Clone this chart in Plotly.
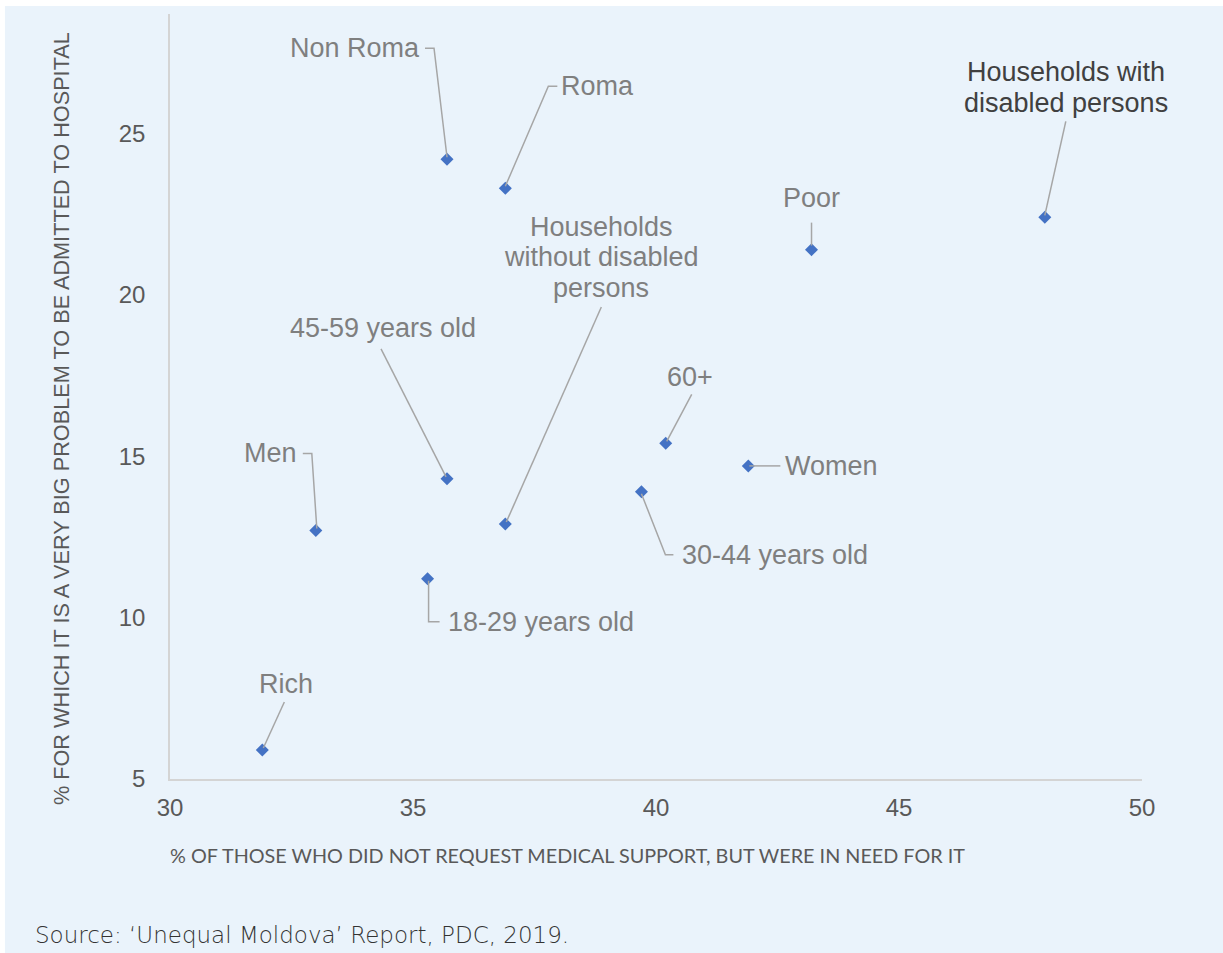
import plotly.graph_objects as go

# Groups and their values
groups = [
    "Non Roma", "Roma", "Households with<br>disabled persons", "Poor",
    "Households<br>without disabled<br>persons", "45-59 years old", "60+",
    "Women", "30-44 years old", "Men", "18-29 years old", "Rich",
]
no_request_pct = [35.7, 36.9, 48.0, 43.2, 36.9, 35.7, 40.2, 41.9, 39.7, 33.0, 35.3, 31.9]
hospital_problem_pct = [24.2, 23.3, 22.4, 21.4, 12.9, 14.3, 15.4, 14.7, 13.9, 12.7, 11.2, 5.9]

x_ticks = [30, 35, 40, 45, 50]
y_ticks = [5, 10, 15, 20, 25]

# Label placement: text offset (px, right/up) and leader-line path (px offsets from the point, up positive)
label_offsets = [
    (-92, 111), (92, 102), (21, 130), (0, 52), (96, 267), (-64, 151),
    (24, 66), (83, 0), (134, -63), (-45, 77), (113, -43), (24, 66),
]
leader_paths = [
    [(-22, 111), (-13, 111), (0, 2)],
    [(52, 102), (43, 102), (0, 2)],
    [(21, 96), (0, 2)],
    [(0, 27), (0, 4)],
    [(96, 217), (1, 2)],
    [(-66, 130), (-1, 2)],
    [(26, 49), (1, 2)],
    [(1, 0), (32, 0)],
    [(0, -2), (24, -63), (32, -63)],
    [(-13, 77), (-4, 77), (1, 2)],
    [(1, -2), (1, -43), (12, -43)],
    [(22, 48), (1, 2)],
]
label_colors = ["#7F7F7F"] * len(groups)
label_colors[2] = "#404040"

FONT = "Arial, Liberation Sans, sans-serif"
LABEL_SIZE = 27
LINE_STEP = 30.5

fig = go.Figure()
fig.add_trace(go.Scatter(
    x=no_request_pct, y=hospital_problem_pct, mode="markers",
    marker=dict(symbol="diamond", size=10, color="#4472C4"),
    hoverinfo="skip", showlegend=False,
))

shapes = [dict(
    type="rect", xref="paper", yref="paper", layer="below",
    x0=-0.1698, x1=1.1, y0=-0.3, y1=1.0105,
    fillcolor="#EAF3FB", line=dict(width=0),
)]
annotations = []
for name, xv, yv, (dx, dy), path, col in zip(
        groups, no_request_pct, hospital_problem_pct, label_offsets, leader_paths, label_colors):
    d = "M " + " L ".join(f"{px},{py}" for px, py in path)
    shapes.append(dict(
        type="path", xref="x", yref="y", xsizemode="pixel", ysizemode="pixel",
        xanchor=xv, yanchor=yv, path=d, line=dict(color="#A6A6A6", width=1.5),
    ))
    # multi-line labels are set line by line for tighter spacing
    lines = name.split("<br>")
    n = len(lines)
    for i, line in enumerate(lines):
        annotations.append(dict(
            x=xv, y=yv, xref="x", yref="y", text=line, showarrow=False,
            xanchor="center", yanchor="middle", xshift=dx,
            yshift=dy + (n - 1) / 2 * LINE_STEP - i * LINE_STEP,
            font=dict(family=FONT, size=LABEL_SIZE, color=col),
        ))

annotations.append(dict(
    x=-0.002, y=-0.0993, xref="paper", yref="paper", showarrow=False,
    xanchor="left", yanchor="middle",
    text="% OF THOSE WHO DID NOT REQUEST MEDICAL SUPPORT, BUT WERE IN NEED FOR IT",
    font=dict(family="Lato, Carlito, sans-serif", size=19.8, color="#595959"),
))
annotations.append(dict(
    x=-0.111, y=0.4706, xref="paper", yref="paper", showarrow=False,
    xanchor="center", yanchor="middle", textangle=-90,
    text="% FOR WHICH IT IS A VERY BIG PROBLEM TO BE ADMITTED TO HOSPITAL",
    font=dict(family=FONT, size=21.7, color="#595959"),
))
annotations.append(dict(
    x=-0.141, y=-0.2039, xref="paper", yref="paper", showarrow=False,
    xanchor="left", yanchor="middle",
    text="Source: \u2018Unequal Moldova\u2019 Report, PDC, 2019.",
    font=dict(family="DejaVu Sans, sans-serif", size=23, color="#333333", weight=300),
))

fig.update_layout(
    width=1223, height=953,
    margin=dict(l=170, r=81, t=14, b=174),
    paper_bgcolor="white", plot_bgcolor="rgba(0,0,0,0)",
    shapes=shapes, annotations=annotations,
    xaxis=dict(
        range=[30, 50], tickvals=x_ticks, showgrid=False, zeroline=False,
        showline=True, linecolor="#D4D4D4", linewidth=1.5,
        ticks="outside", ticklen=6, tickcolor="rgba(0,0,0,0)",
        tickfont=dict(family=FONT, size=24, color="#595959"),
    ),
    yaxis=dict(
        range=[5, 28.7], tickvals=y_ticks, showgrid=False, zeroline=False,
        showline=True, linecolor="#D4D4D4", linewidth=1.5,
        ticks="outside", ticklen=18, tickcolor="rgba(0,0,0,0)",
        tickfont=dict(family=FONT, size=24, color="#595959"),
    ),
)

fig.write_html("out.html")
